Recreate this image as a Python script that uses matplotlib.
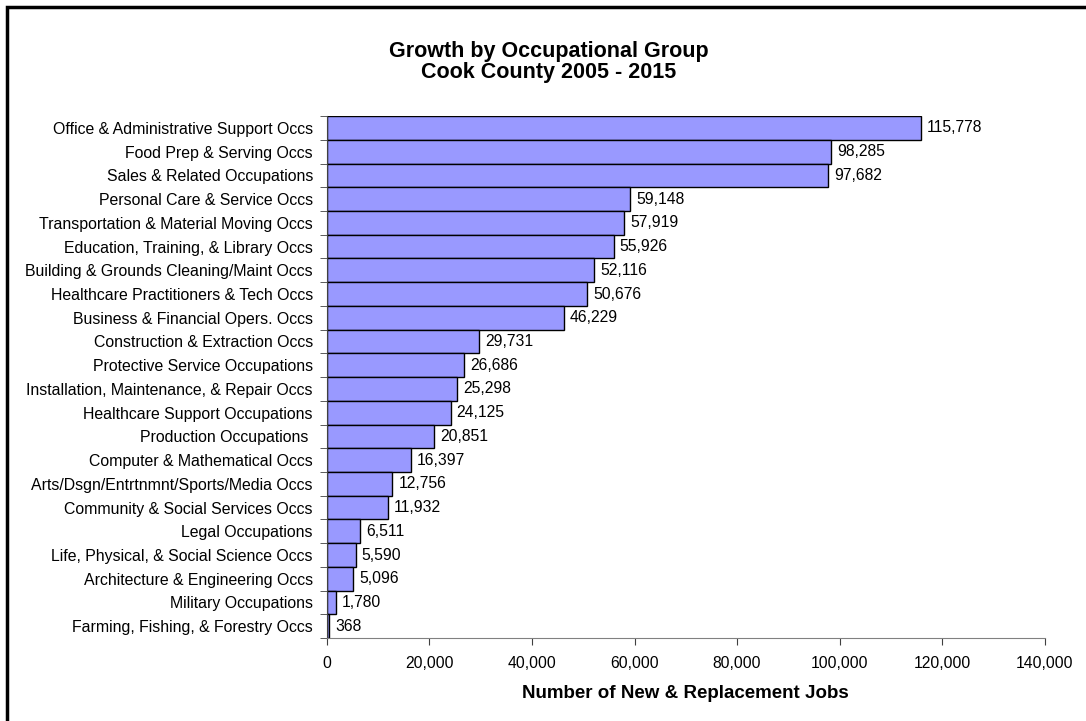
import numpy as np
import matplotlib.pyplot as plt
from matplotlib.patches import Rectangle

plt.rcParams['font.family'] = ['Liberation Sans', 'DejaVu Sans']

# occupational groups, top to bottom as shown
groups = ['Office & Administrative Support Occs', 'Food Prep & Serving Occs',
          'Sales & Related Occupations', 'Personal Care & Service Occs',
          'Transportation & Material Moving Occs', 'Education, Training, & Library Occs',
          'Building & Grounds Cleaning/Maint Occs', 'Healthcare Practitioners & Tech Occs',
          'Business & Financial Opers. Occs', 'Construction & Extraction Occs',
          'Protective Service Occupations', 'Installation, Maintenance, & Repair Occs',
          'Healthcare Support Occupations', 'Production Occupations ',
          'Computer & Mathematical Occs', 'Arts/Dsgn/Entrtnmnt/Sports/Media Occs',
          'Community & Social Services Occs', 'Legal Occupations',
          'Life, Physical, & Social Science Occs', 'Architecture & Engineering Occs',
          'Military Occupations', 'Farming, Fishing, & Forestry Occs']
jobs = [115778, 98285, 97682, 59148, 57919, 55926, 52116, 50676, 46229, 29731,
        26686, 25298, 24125, 20851, 16397, 12756, 11932, 6511, 5590, 5096, 1780, 368]
xticks = [0, 20000, 40000, 60000, 80000, 100000, 120000, 140000]

fig = plt.figure(figsize=(10.86, 7.21), dpi=100)
ax = fig.add_axes([0.301, 0.115, 0.661, 0.724])

pos = np.arange(len(groups))
ax.barh(pos, jobs, height=1.0, color='#9999FF', edgecolor='black', linewidth=1.0)
for p, v in zip(pos, jobs):
    ax.text(v + 1200, p, f'{v:,}', va='center', ha='left', fontsize=11.3)

ax.set_ylim(len(groups) - 0.5, -0.5)
ax.set_xlim(0, 140000)
ax.set_yticks(pos)
ax.set_yticklabels(groups, fontsize=11.4)
ax.set_yticks(np.arange(len(groups) + 1) - 0.5, minor=True)
ax.tick_params(axis='y', which='major', length=0, pad=10)
ax.tick_params(axis='y', which='minor', length=5, color='#404040', direction='out')
ax.set_xticks(xticks)
ax.set_xticklabels([f'{t:,}' for t in xticks], fontsize=11.3)
ax.tick_params(axis='x', length=5, color='#404040', pad=8)

for s in ['top', 'right']:
    ax.spines[s].set_visible(False)
ax.spines['left'].set_color('#404040')
ax.spines['bottom'].set_color('#808080')

ax.set_xlabel('Number of New & Replacement Jobs', fontsize=13.5, fontweight='bold', labelpad=10)
fig.text(0.505, 0.914, 'Growth by Occupational Group\nCook County 2005 - 2015',
         ha='center', va='center', fontsize=15.5, fontweight='bold', linespacing=1.0)

# border round the chart area (cropped on right and bottom)
fig.patches.append(Rectangle((7 / 1086, -0.1), 1.2, 1.1 - 7 / 721, transform=fig.transFigure,
                             fill=False, edgecolor='black', linewidth=2.5))

fig.savefig('out.png', dpi=100)
